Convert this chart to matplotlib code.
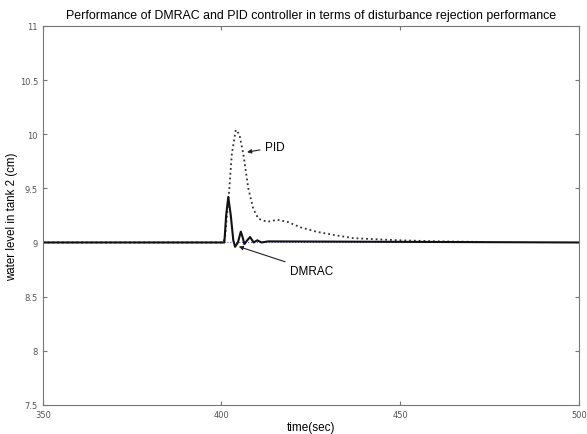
import matplotlib
matplotlib.use("Agg")
import matplotlib.pyplot as plt

# PID response (time in sec, level in cm)
pid_t = [350, 400.5, 401.0, 402.2, 402.9, 404.0, 405.0, 406.1, 407.5, 408.9,
         410.3, 412.8, 415.6, 418.5, 422.1, 426.5, 431.3, 436.9, 443.0, 450.1,
         461.0, 473.4]
pid_y = [9.0, 9.0, 9.05, 9.5, 9.82, 10.04, 10.0, 9.82, 9.5, 9.31,
         9.22, 9.19, 9.21, 9.19, 9.14, 9.1, 9.07, 9.04, 9.03, 9.02,
         9.01, 9.005]

# DMRAC response
dmrac_t = [350, 400.8, 401.3, 401.9, 402.6, 403.3, 403.8, 404.6, 405.4, 405.9,
           406.4, 407.2, 408.0, 409.0, 410.0, 411.2, 413.0, 500]
dmrac_y = [9.0, 9.0, 9.25, 9.42, 9.25, 9.02, 8.96, 9.0, 9.10, 9.05,
           8.985, 9.02, 9.05, 9.0, 9.02, 9.0, 9.01, 9.0]

# reference level
ref_t = [400, 473.4]
ref_y = [9.0, 9.0]

fig = plt.figure(figsize=(5.87, 4.35), dpi=100)
ax = fig.add_axes([0.073, 0.067, 0.913, 0.871])

ax.plot(ref_t, ref_y, color="#5555cc", linestyle=":", linewidth=0.8)
ax.plot(pid_t, pid_y, color="#333333", linestyle=":", linewidth=1.3)
ax.plot(dmrac_t, dmrac_y, color="#111111", linestyle="-", linewidth=1.5)

ax.set_xlim(350, 500)
ax.set_ylim(7.5, 11)
ax.set_xticks([350, 400, 450, 500])
ax.set_yticks([7.5, 8, 8.5, 9, 9.5, 10, 10.5, 11])
ax.set_yticklabels(["7.5", "8", "8.5", "9", "9.5", "10", "10.5", "11"])

ax.tick_params(direction="in", top=True, right=True, labelsize=6,
               labelcolor="#555555", color="#777777", length=3)
for s in ax.spines.values():
    s.set_color("#777777")

ax.set_title("Performance of DMRAC and PID controller in terms of disturbance rejection performance",
             fontsize=8.9, family="Liberation Sans", pad=6)
ax.set_xlabel("time(sec)", fontsize=8.5, family="Liberation Sans", labelpad=2)
ax.set_ylabel("water level in tank 2 (cm)", fontsize=8.3, family="Liberation Sans", labelpad=1)

arrow = dict(arrowstyle="-|>", color="#222222", lw=0.8, mutation_scale=6)
ax.annotate("PID", xy=(406.4, 9.83), xytext=(412.3, 9.88), fontsize=8.5,
            family="Liberation Sans", va="center", arrowprops=arrow)
ax.annotate("DMRAC", xy=(404.1, 8.97), xytext=(419.3, 8.74), fontsize=8.5,
            family="Liberation Sans", va="center", arrowprops=arrow)

fig.savefig("out.png", dpi=100)
